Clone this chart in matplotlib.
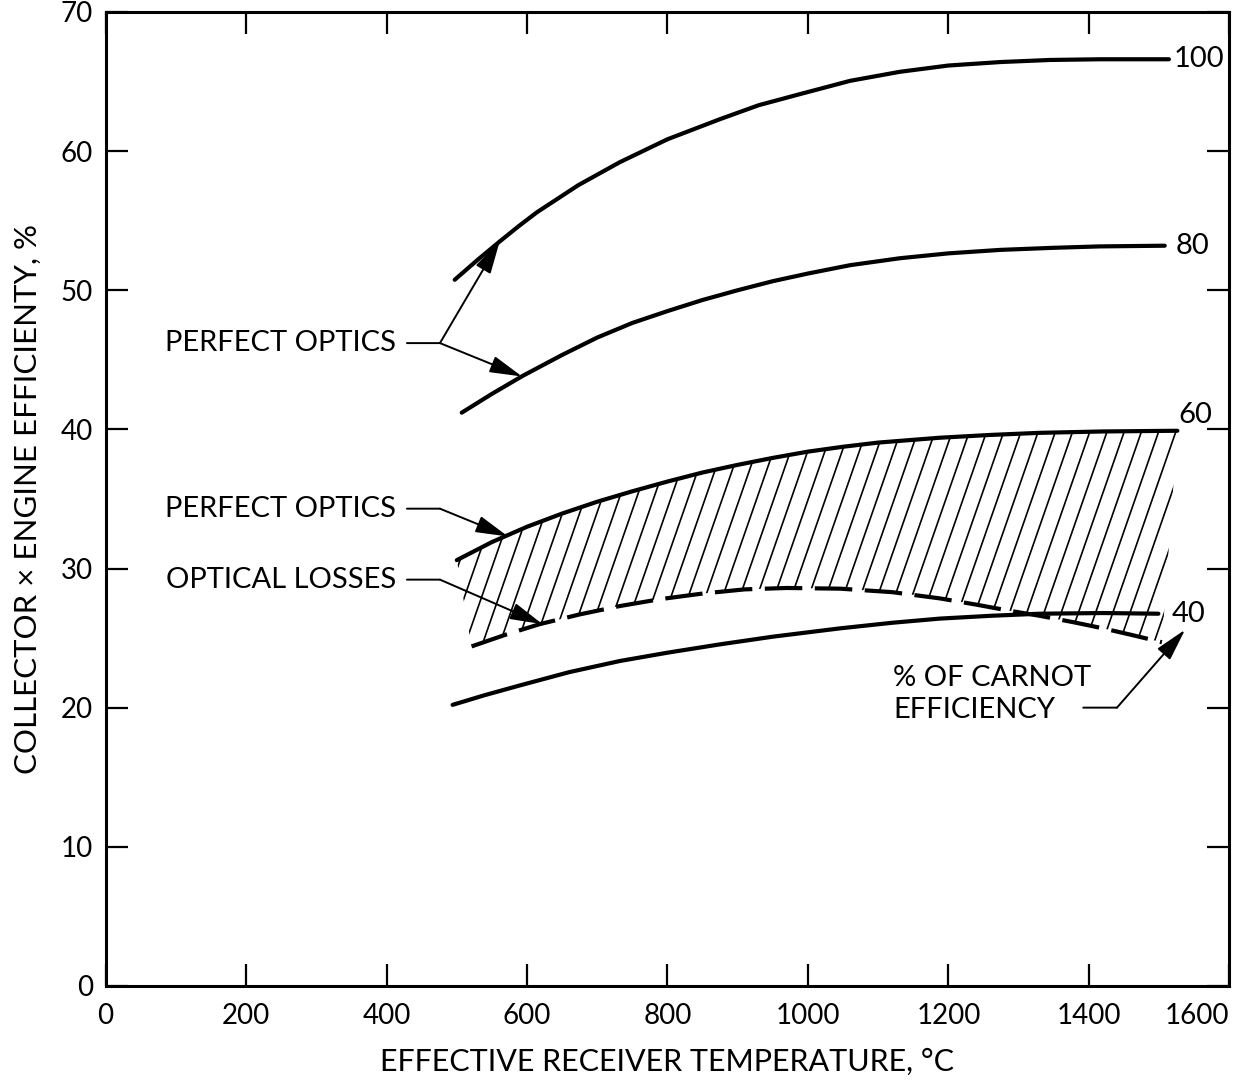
import numpy as np
import matplotlib
matplotlib.use("Agg")
import matplotlib.pyplot as plt
from matplotlib.patches import Polygon
from matplotlib.collections import LineCollection

# ---- data ----
t100 = [497, 530, 561, 588, 614, 673, 732, 800, 875, 930, 989, 1060, 1131, 1200, 1274, 1345, 1416, 1514]
e100 = [50.75, 52.2, 53.5, 54.6, 55.6, 57.55, 59.2, 60.85, 62.3, 63.3, 64.1, 65.05, 65.7, 66.15, 66.4, 66.55, 66.6, 66.6]

t80 = [507, 550, 594, 650, 700, 750, 800, 850, 900, 950, 1000, 1060, 1131, 1200, 1274, 1350, 1416, 1508]
e80 = [41.2, 42.55, 43.85, 45.35, 46.6, 47.65, 48.5, 49.3, 50.0, 50.65, 51.2, 51.8, 52.3, 52.65, 52.9, 53.05, 53.15, 53.2]

t60 = [500, 550, 600, 650, 700, 750, 800, 850, 900, 950, 1000, 1050, 1100, 1188, 1260, 1330, 1420, 1526]
e60 = [30.6, 31.9, 33.0, 33.95, 34.8, 35.55, 36.25, 36.9, 37.45, 37.95, 38.4, 38.75, 39.05, 39.4, 39.6, 39.75, 39.85, 39.9]

t_loss = [521, 570, 618, 675, 732, 790, 850, 910, 970, 1046, 1120, 1188, 1240, 1283, 1330, 1377, 1420, 1463, 1504]
e_loss = [24.4, 25.25, 26.0, 26.7, 27.3, 27.8, 28.2, 28.5, 28.6, 28.55, 28.3, 27.85, 27.4, 27.0, 26.6, 26.15, 25.7, 25.2, 24.7]

t40 = [494, 540, 590, 660, 732, 800, 875, 950, 1046, 1120, 1188, 1260, 1330, 1420, 1499]
e40 = [20.2, 20.9, 21.6, 22.55, 23.35, 23.95, 24.55, 25.1, 25.7, 26.1, 26.4, 26.6, 26.75, 26.8, 26.75]

curve_labels = ["100", "80", "60", "40"]
x_ticks = [0, 200, 400, 600, 800, 1000, 1200, 1400, 1600]
y_ticks = [0, 10, 20, 30, 40, 50, 60, 70]

FONT = "Lato"
plt.rcParams["font.family"] = [FONT, "DejaVu Sans"]

fig = plt.figure(figsize=(12.43, 10.87), dpi=100)
ax = fig.add_axes([0.085, 0.093, 0.904, 0.896])
ax.set_xlim(0, 1600)
ax.set_ylim(0, 70)

LW = 3.0
for tt, ee in [(t100, e100), (t80, e80), (t60, e60), (t40, e40)]:
    ax.plot(tt, ee, color="black", lw=LW, solid_capstyle="round",
            solid_joinstyle="round")
ax.plot(t_loss, e_loss, color="black", lw=LW, dashes=(9, 3.0))

# hatched region between perfect-optics (60) curve and optical-loss curve
verts = np.column_stack([np.concatenate([t60, t_loss[::-1]]),
                         np.concatenate([e60, e_loss[::-1]])])
region = Polygon(verts, closed=True, facecolor="none", edgecolor="none")
ax.add_patch(region)
x0s = np.arange(250, 1650, 24.5)
segs = [[(x0, 15), (x0 + 6.9 * 30, 45)] for x0 in x0s]
lc = LineCollection(segs, colors="black", linewidths=1.2)
ax.add_collection(lc)
lc.set_clip_path(region)

# curve end labels
TS = 21
ax.text(1520, e100[-1], curve_labels[0], fontsize=TS, ha="left", va="center")
ax.text(1524, e80[-1], curve_labels[1], fontsize=TS, ha="left", va="center")
ax.text(1527, 41.0, curve_labels[2], fontsize=TS, ha="left", va="center")
ax.text(1518, 26.7, curve_labels[3], fontsize=TS, ha="left", va="center")

arrow = dict(arrowstyle="-|>,head_length=1.0,head_width=0.26", color="black",
             lw=1.4, shrinkA=0, shrinkB=0, mutation_scale=20)
plain = dict(arrowstyle="-", color="black", lw=1.4, shrinkA=0, shrinkB=0)

# PERFECT OPTICS (upper)
ax.text(414, 46.2, "PERFECT OPTICS", fontsize=TS, ha="right", va="center")
ax.annotate("", xy=(476, 46.2), xytext=(429, 46.2), arrowprops=plain)
ax.annotate("", xy=(561, 53.5), xytext=(476, 46.2), arrowprops=arrow)
ax.annotate("", xy=(593, 43.8), xytext=(476, 46.2), arrowprops=arrow)

# PERFECT OPTICS (lower)
ax.text(414, 34.3, "PERFECT OPTICS", fontsize=TS, ha="right", va="center")
ax.annotate("", xy=(476, 34.3), xytext=(429, 34.3), arrowprops=plain)
ax.annotate("", xy=(573, 32.3), xytext=(476, 34.3), arrowprops=arrow)

# OPTICAL LOSSES
ax.text(414, 29.2, "OPTICAL LOSSES", fontsize=TS, ha="right", va="center")
ax.annotate("", xy=(476, 29.2), xytext=(429, 29.2), arrowprops=plain)
ax.annotate("", xy=(622, 26.0), xytext=(476, 29.2), arrowprops=arrow)

# % OF CARNOT EFFICIENCY
ax.text(1121, 22.1, "% OF CARNOT", fontsize=TS, ha="left", va="center")
ax.text(1121, 19.8, "EFFICIENCY", fontsize=TS, ha="left", va="center")
ax.annotate("", xy=(1440, 20.0), xytext=(1392, 20.0), arrowprops=plain)
ax.annotate("", xy=(1537, 25.6), xytext=(1440, 20.0), arrowprops=arrow)

# axes styling
for s in ax.spines.values():
    s.set_linewidth(2.2)
ax.set_xticks(x_ticks)
ax.set_yticks(y_ticks)
ax.tick_params(direction="in", length=16, width=1.6, top=True, right=True,
               labelsize=20)
ax.tick_params(axis="x", pad=12)
ax.tick_params(axis="y", pad=9)
ax.get_xticklabels()[-1].set_horizontalalignment("right")
ax.set_xlabel("EFFECTIVE RECEIVER TEMPERATURE, °C", fontsize=22, labelpad=14)
ax.set_ylabel("COLLECTOR × ENGINE EFFICIENTY, %", fontsize=22.5, labelpad=14)

fig.savefig("out.png", dpi=100)
